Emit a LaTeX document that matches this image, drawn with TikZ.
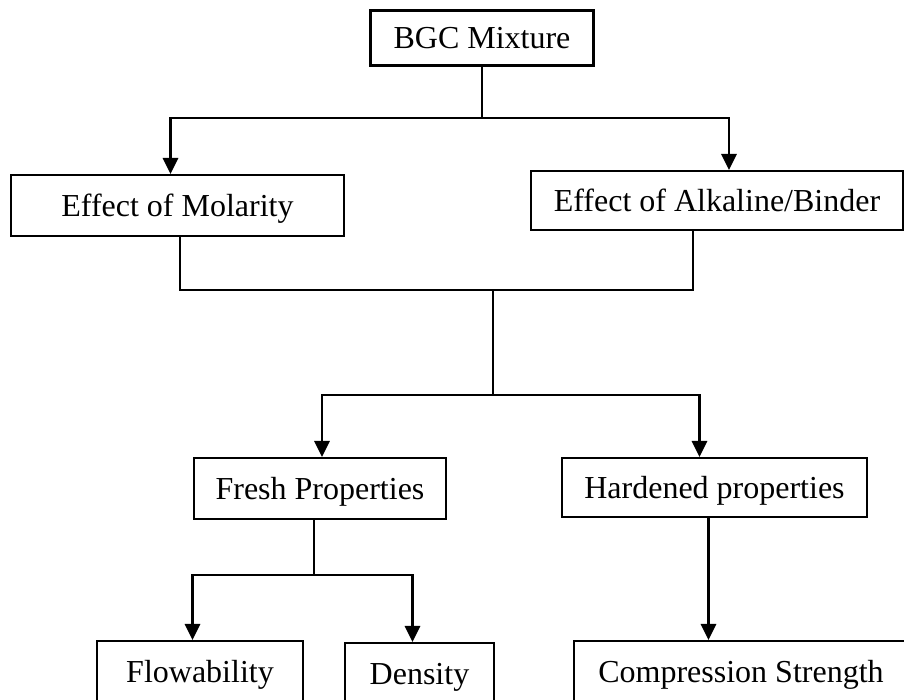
\documentclass[tikz,border=0pt]{standalone}
\usepackage{fontspec}
\setmainfont{Liberation Serif}
\usetikzlibrary{arrows.meta,positioning,calc}
\newdimen\px
\px=0.75pt

\begin{document}
\begin{tikzpicture}[x=0.75pt,y=-0.75pt,
line width=1.6pt,
>={Triangle[length=12pt,width=11.5pt]}]

\tikzstyle{box}=[rectangle, draw, line width=1.6pt, inner sep=0pt,
text height=15.8pt, text depth=0pt, font=\fontsize{24}{28}\selectfont]

\clip (0,0) rectangle (904,700);

%top
\node[box, minimum width=223\px, minimum height=55\px] (mix) at (482,38) {BGC Mixture};

%effects
\node[box, minimum width=333\px, minimum height=61\px] (mol) at (177.5,205.5) {Effect of Molarity};
\node[box, minimum width=372\px, minimum height=59\px] (alk) at (717,200.5) {Effect of Alkaline/Binder};

%properties
\node[box, minimum width=252\px, minimum height=61\px] (fresh) at (320,488.5) {Fresh Properties};
\node[box, minimum width=305\px, minimum height=59\px] (hard) at (714.5,487.5) {Hardened properties};

%tests
\node[box, minimum width=206\px, minimum height=62\px] (flow) at (200,672) {Flowability};
\node[box, minimum width=149\px, minimum height=62\px] (dens) at (419.5,674) {Density};
\node[box, minimum width=334\px, minimum height=62\px] (comp) at (741,672) {Compression Strength};

\coordinate (top) at (482,118);
\coordinate (mid) at (493,290);
\coordinate (low) at (493,395);
\coordinate (fr) at (314,575);
\coordinate (hs) at ($(hard.south)+(-6,0)$);

\draw (mix.south -| top) -- (top);
\draw[->] (top) -| ($(mol.north)+(-7,0)$);
\draw[->] (top) -| ($(alk.north)+(12,0)$);

\draw ($(mol.south)+(2.5,0)$) |- (mid) -| ($(alk.south)+(-24,0)$);
\draw (mid) -- (low);
\draw[->] (low) -| ($(fresh.north)+(2,0)$);
\draw[->] (low) -| ($(hard.north)+(-15,0)$);

\draw (fresh.south -| fr) -- (fr);
\draw[->] (fr) -| ($(flow.north)+(-7.5,0)$);
\draw[->] (fr) -| ($(dens.north)+(-7,0)$);
\draw[->] (hs) -- (hs |- comp.north);

\end{tikzpicture}
\end{document}
